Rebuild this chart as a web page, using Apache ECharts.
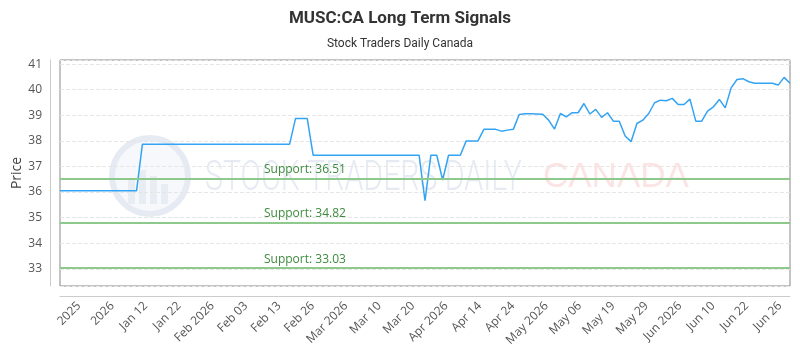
<!DOCTYPE html>
<html>
<head>
<meta charset="utf-8">
<script src="https://cdn.jsdelivr.net/npm/echarts@6/dist/echarts.min.js"></script>
<style>html,body{margin:0;padding:0;background:#fff;}#chart{width:800px;height:350px;}</style>
</head>
<body>
<div id="chart"></div>
<script>
const tickLabels = ['2025','2026','Jan 12','Jan 22','Feb 2026','Feb 03','Feb 13','Feb 26','Mar 2026','Mar 10','Mar 20','Apr 2026','Apr 14','Apr 24','May 2026','May 06','May 19','May 29','Jun 2026','Jun 10','Jun 22','Jun 26'];

const prices = [
  36.05,36.05,36.05,36.05,36.05,36.05,36.05,36.05,36.05,36.05,36.05,36.05,36.05,36.05,
  37.87,37.87,37.87,37.87,37.87,37.87,37.87,37.87,37.87,37.87,37.87,37.87,37.87,
  37.87,37.87,37.87,37.87,37.87,37.87,37.87,37.87,37.87,37.87,37.87,37.87,37.87,
  38.87,38.87,38.87,
  37.44,37.44,37.44,37.44,37.44,37.44,37.44,37.44,37.44,37.44,37.44,37.44,37.44,37.44,37.44,37.44,37.44,37.44,37.44,
  35.66,37.44,37.44,36.47,37.44,37.44,37.44,
  38.00,38.00,38.00,38.45,38.45,38.45,38.38,38.42,38.45,39.03,
  39.06,39.06,39.05,39.04,38.81,38.46,39.07,38.94,39.10,39.10,
  39.46,39.05,39.23,38.92,39.10,38.77,38.77,38.19,37.97,38.68,
  38.81,39.07,39.49,39.59,39.57,39.66,39.42,39.42,39.63,38.77,
  38.77,39.16,39.33,39.62,39.29,40.07,40.40,40.43,40.31,40.25,
  40.25,40.25,40.25,40.18,40.48,40.25
];

const supportLevels = [36.51, 34.82, 33.03];

const pointIndex = prices.map((_, i) => String(i));

const chart = echarts.init(document.getElementById('chart'), null, {renderer: 'canvas'});

const option = {
  animation: false,
  backgroundColor: '#fff',
  title: [
    {text: 'MUSC:CA Long Term Signals', left: 'center', top: 5,
     textStyle: {fontFamily: 'Roboto', fontWeight: 'bold', fontSize: 17, color: '#333'}},
    {text: 'Stock Traders Daily Canada', left: 'center', top: 33,
     textStyle: {fontFamily: 'Roboto', fontWeight: 'normal', fontSize: 12, color: '#333'}}
  ],
  graphic: [
    {type: 'circle', z: 0, silent: true, shape: {cx: 150, cy: 176, r: 38},
     style: {fill: 'rgba(225,231,241,0.3)', stroke: '#e6eaf2', lineWidth: 6}},
    {type: 'rect', z: 0, silent: true, shape: {x: 128, y: 180, width: 7, height: 24}, style: {fill: '#e8ecf3'}},
    {type: 'rect', z: 0, silent: true, shape: {x: 139, y: 170, width: 7, height: 34}, style: {fill: '#e8ecf3'}},
    {type: 'rect', z: 0, silent: true, shape: {x: 150, y: 176, width: 7, height: 28}, style: {fill: '#e8ecf3'}},
    {type: 'rect', z: 0, silent: true, shape: {x: 161, y: 184, width: 7, height: 20}, style: {fill: '#e8ecf3'}},
    {type: 'text', z: 0, silent: true, left: 205, top: 158, scaleX: 0.72,
     style: {text: 'STOCK TRADERS DAILY', font: '300 42px Roboto', fill: '#e6eaf2'}},
    {type: 'text', z: 0, silent: true, left: 543, top: 160,
     style: {text: 'CANADA', font: '35px "Liberation Sans"', fill: '#fce4e4'}}
  ],
  grid: [
    {left: 60, right: 10, top: 60, bottom: 64, show: true, borderColor: '#888', borderWidth: 1,
     backgroundColor: 'transparent', containLabel: false, outerBoundsMode: 'none'},
    {left: 79, right: 20, top: 60, bottom: 64, containLabel: false, outerBoundsMode: 'none'}
  ],
  xAxis: [
    {type: 'category', gridIndex: 0, data: pointIndex, boundaryGap: false, offset: 10,
     axisLine: {show: true, lineStyle: {color: '#ccc'}}, axisTick: {show: false},
     axisLabel: {show: false}, splitLine: {show: false}},
    {type: 'category', gridIndex: 1, data: tickLabels, boundaryGap: false, offset: 10,
     axisLine: {show: false}, axisTick: {show: false}, splitLine: {show: false},
     axisLabel: {interval: 0, rotate: 45, fontFamily: 'Open Sans', fontSize: 12, color: '#555', margin: 8}}
  ],
  yAxis: [
    {type: 'value', gridIndex: 0, min: 32.33, max: 41.16, splitNumber: 9, offset: 10,
     name: 'Price', nameLocation: 'middle', nameGap: 26, nameMoveOverlap: false,
     nameTextStyle: {fontFamily: 'Open Sans', fontSize: 14, color: '#444'},
     axisLine: {show: true, lineStyle: {color: '#ccc'}}, axisTick: {show: false},
     axisLabel: {fontFamily: 'Open Sans', fontSize: 12, color: '#555', margin: 8,
       formatter: v => Math.abs(v - Math.round(v)) < 1e-6 ? String(Math.round(v)) : ''},
     splitLine: {show: true, lineStyle: {type: 'dashed', color: '#e6e6e6'}}},
    {type: 'value', gridIndex: 1, show: false}
  ],
  series: [
    {type: 'line', xAxisIndex: 0, yAxisIndex: 0, data: prices, symbol: 'none', z: 3,
     lineStyle: {color: '#33a3f4', width: 1.5},
     markLine: {
       silent: true, symbol: ['none', 'none'],
       lineStyle: {color: '#8dc98d', width: 2, type: 'solid'},
       label: {position: 'insideStartTop', color: '#3d8b3d', fontFamily: 'Open Sans', fontSize: 12,
               padding: [0, 0, 0, 201], distance: 3},
       data: supportLevels.map(v => ({yAxis: v, label: {formatter: 'Support: ' + v.toFixed(2)}}))
     }}
  ]
};
chart.setOption(option);
</script>
</body>
</html>
